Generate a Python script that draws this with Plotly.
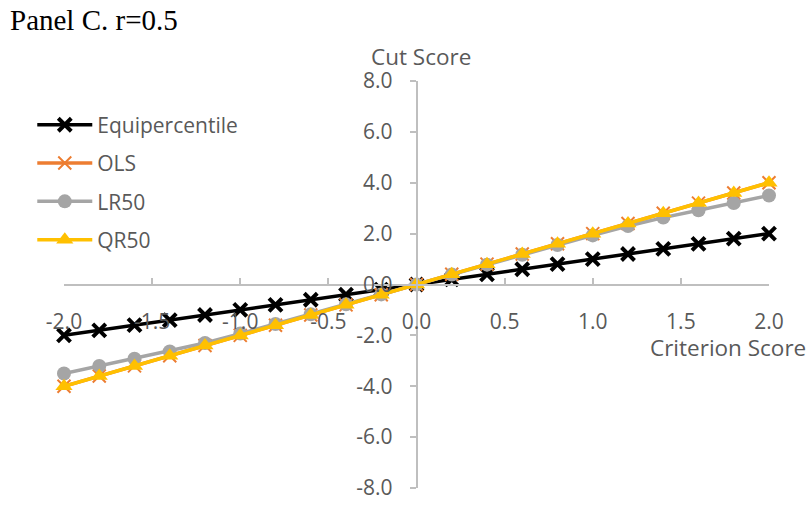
import plotly.graph_objects as go

# Criterion score grid and cut scores per method
criterion = [-2.0, -1.8, -1.6, -1.4, -1.2, -1.0, -0.8, -0.6, -0.4, -0.2, 0.0,
             0.2, 0.4, 0.6, 0.8, 1.0, 1.2, 1.4, 1.6, 1.8, 2.0]
equipercentile = [-2.0, -1.8, -1.6, -1.4, -1.2, -1.0, -0.8, -0.6, -0.4, -0.2, 0.0,
                  0.2, 0.4, 0.6, 0.8, 1.0, 1.2, 1.4, 1.6, 1.8, 2.0]
ols = [-4.0, -3.6, -3.2, -2.8, -2.4, -2.0, -1.6, -1.2, -0.8, -0.4, 0.0,
       0.4, 0.8, 1.2, 1.6, 2.0, 2.4, 2.8, 3.2, 3.6, 4.0]
lr50 = [-3.5, -3.2, -2.92, -2.63, -2.3, -1.93, -1.55, -1.17, -0.78, -0.39, 0.0,
        0.39, 0.78, 1.17, 1.55, 1.93, 2.3, 2.63, 2.92, 3.2, 3.5]
qr50 = [-4.0, -3.6, -3.2, -2.8, -2.4, -2.0, -1.6, -1.2, -0.8, -0.4, 0.0,
        0.4, 0.8, 1.2, 1.6, 2.0, 2.4, 2.8, 3.2, 3.6, 4.0]

x_ticks = [-2.0, -1.5, -1.0, -0.5, 0.0, 0.5, 1.0, 1.5, 2.0]
y_ticks = [-8.0, -6.0, -4.0, -2.0, 0.0, 2.0, 4.0, 6.0, 8.0]
x_range = [-2.0, 2.0]
y_range = [-8.0, 8.0]

FONT = "Open Sans"
AXIS_GREY = "#BFBFBF"
TEXT_GREY = "#595959"

series = [
    ("Equipercentile", equipercentile, "#000000",
     dict(symbol="x-thin", size=13, line=dict(width=4, color="#000000"))),
    ("OLS", ols, "#ED7D31",
     dict(symbol="x-thin", size=13, line=dict(width=2, color="#ED7D31"))),
    ("LR50", lr50, "#A5A5A5",
     dict(symbol="circle", size=14, color="#A5A5A5", line=dict(width=0))),
    ("QR50", qr50, "#FFC000",
     dict(symbol="triangle-up", size=15, color="#FFC000", line=dict(width=0))),
]

fig = go.Figure()
for i, (name, vals, color, marker) in enumerate(series):
    fig.add_trace(go.Scatter(
        x=criterion, y=vals, name=name, mode="lines+markers",
        line=dict(color=color, width=3.5), marker=marker,
        cliponaxis=False, legendgroup=f"g{i}",
    ))

# axes cross at the origin
x_pos = (0 - y_range[0]) / (y_range[1] - y_range[0])
y_pos = (0 - x_range[0]) / (x_range[1] - x_range[0])

fig.update_layout(
    width=811, height=513,
    margin=dict(l=64, r=42, t=81, b=14),
    paper_bgcolor="white", plot_bgcolor="white",
    font=dict(family=FONT, size=21, color=TEXT_GREY),
    showlegend=True,
    legend=dict(
        x=-0.045, y=0.942, xanchor="left", yanchor="top",
        bgcolor="rgba(0,0,0,0)", itemwidth=55, tracegroupgap=8,
        font=dict(family=FONT, size=21, color=TEXT_GREY),
    ),
    xaxis=dict(
        range=x_range, tickvals=x_ticks, ticktext=[f"{v:.1f}" for v in x_ticks],
        anchor="free", position=x_pos, showgrid=False, zeroline=False,
        showline=True, linecolor=AXIS_GREY, linewidth=1.5,
        ticks="inside", ticklen=6, tickcolor=AXIS_GREY, tickwidth=1.5,
        ticklabelstandoff=19,
        tickfont=dict(family=FONT, size=21, color=TEXT_GREY),
    ),
    yaxis=dict(
        range=y_range, tickvals=y_ticks, ticktext=[f"{v:.1f}" for v in y_ticks],
        anchor="free", position=y_pos, showgrid=False, zeroline=False,
        showline=True, linecolor=AXIS_GREY, linewidth=1.5,
        ticks="outside", ticklen=6, tickcolor=AXIS_GREY, tickwidth=1.5,
        ticklabelstandoff=13,
        tickfont=dict(family=FONT, size=21, color=TEXT_GREY),
    ),
    annotations=[
        dict(text="Panel C. r=0.5", xref="paper", yref="paper",
             x=-64 / 705, y=1 + 81 / 418, xanchor="left", yanchor="top",
             yshift=0, xshift=8, showarrow=False,
             font=dict(family="Liberation Serif", size=29, color="#000000")),
        dict(text="Cut Score", xref="x", yref="y", x=0, y=8,
             yshift=25, xshift=4, showarrow=False,
             font=dict(family=FONT, size=22.5, color=TEXT_GREY)),
        dict(text="Criterion Score", xref="x", yref="y", x=1.77, y=0,
             yshift=-63, showarrow=False,
             font=dict(family=FONT, size=22.5, color=TEXT_GREY)),
    ],
)

fig.write_html("out.html")
